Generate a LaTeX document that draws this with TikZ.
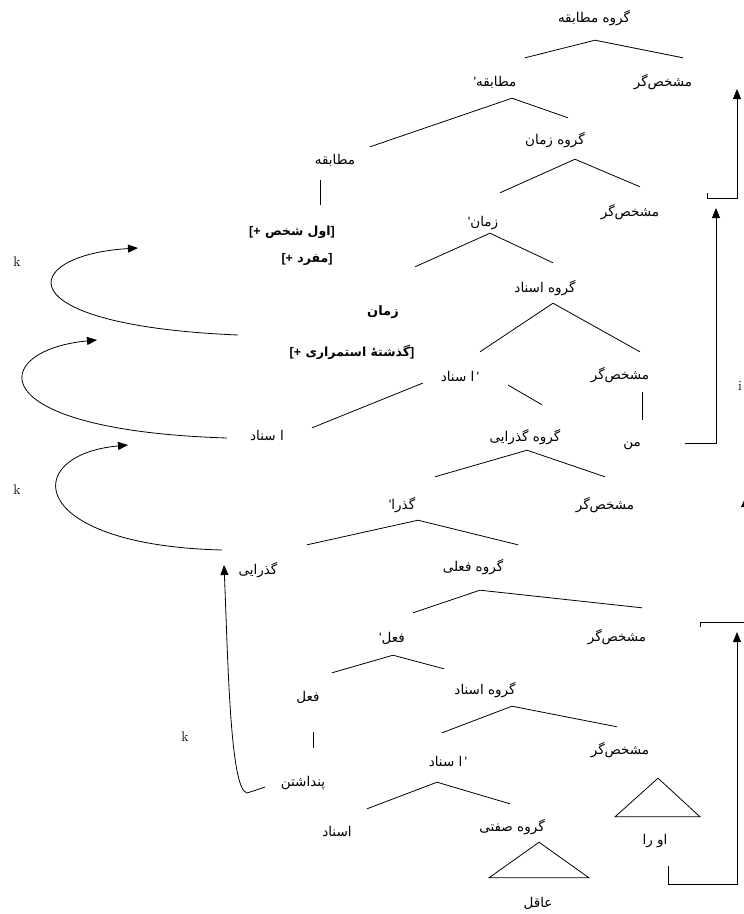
\documentclass[tikz,border=0pt]{standalone}
\usepackage{fontspec}
\usepackage{tikz}
\usetikzlibrary{arrows.meta}
\TeXXeTstate=1
\newfontfamily\farsi[Script=Arabic]{DejaVu Sans}
\newfontfamily\latn{Liberation Sans}
\newcommand{\ap}{{\latn'}}

\begin{document}
\begin{tikzpicture}[
  x=1pt, y=-1pt,
  lab/.style={inner sep=0pt, text height=10pt, text depth=2pt,
    font=\farsi\fontsize{13.5}{15}\selectfont},
  feat/.style={lab, font=\farsi\bfseries\fontsize{12.5}{14}\selectfont},
  headb/.style={lab, font=\farsi\bfseries\fontsize{13}{15}\selectfont},
  idx/.style={inner sep=0pt, font=\fontsize{14}{16}\selectfont},
  br/.style={draw, line width=0.8pt},
  mv/.style={draw, line width=0.8pt, -{Triangle[length=10pt,width=8pt]}}
]
\useasboundingbox (0,0) rectangle (744,914);

% nodes of the tree
\node[lab] (gm) at (594,18) {\beginR گروه مطابقه\endR};
\node[lab] (mtbp) at (495,82) {\ap\beginR مطابقه\endR};
\node[lab] (msh1) at (663,82) {\beginR مشخص‌گر\endR};
\node[lab] (mtb) at (335,160) {\beginR مطابقه\endR};
\node[lab] (gz) at (555,140) {\beginR گروه زمان\endR};
\node[lab] (zp) at (483,222) {\ap\beginR زمان\endR};
\node[lab] (msh2) at (630,212) {\beginR مشخص‌گر\endR};
\node[feat] (f1) at (292,231) {\hbox{\latn[+}\ \hbox{\beginR اول شخص\endR}\hbox{\latn]}};
\node[feat] (f2) at (307,258) {\hbox{\latn[+}\ \hbox{\beginR مفرد\endR}\hbox{\latn]}};
\node[headb] (zm) at (383,311) {\beginR زمان\endR};
\node[feat] (f3) at (352,352) {\hbox{\latn[+}\ \hbox{\beginR گذشتهٔ استمراری\endR}\hbox{\latn]}};
\node[lab] (ga1) at (545,288) {\beginR گروه اسناد\endR};
\node[lab] (asp1) at (460,377) {\beginR ا سناد\endR{\latn\,'}};
\node[lab] (msh3) at (620,375) {\beginR مشخص‌گر\endR};
\node[lab] (as1) at (267,436) {\beginR ا سناد\endR};
\node[lab] (gg) at (525,437) {\beginR گروه گذرایی\endR};
\node[lab] (man) at (632,442) {\beginR من\endR};
\node[lab] (gzp) at (402,505) {\ap\beginR گذرا\endR};
\node[lab] (msh4) at (605,505) {\beginR مشخص‌گر\endR};
\node[lab] (gzy) at (258,570) {\beginR گذرایی\endR};
\node[lab] (gf) at (473,567) {\beginR گروه فعلی\endR};
\node[lab] (fp) at (392,638) {\ap\beginR فعل\endR};
\node[lab] (msh5) at (617,637) {\beginR مشخص‌گر\endR};
\node[lab] (fe) at (308,697) {\beginR فعل\endR};
\node[lab] (ga2) at (485,690) {\beginR گروه اسناد\endR};
\node[lab] (pd) at (303,782) {\beginR پنداشتن\endR};
\node[lab] (asp2) at (448,762) {\beginR ا سناد\endR{\latn\,'}};
\node[lab] (msh6) at (620,750) {\beginR مشخص‌گر\endR};
\node[lab] (asn) at (337,832) {\beginR اسناد\endR};
\node[lab] (gs) at (512,827) {\beginR گروه صفتی\endR};
\node[lab] (aq) at (538,903) {\beginR عاقل\endR};
\node[lab] (ora) at (655,840) {\beginR او را\endR};

\node[idx] (k1) at (17,262) {k};
\node[idx] (k2) at (17,490) {k};
\node[idx] (k3) at (185,737) {k};
\node[idx] (i1) at (740,386) {i};

% branches
\draw[br] ([shift={(30,-18)}]mtbp.north) -- ([shift={(1,16)}]gm.south) -- ([shift={(20,-18)}]msh1.north);
\draw[br] ([shift={(35,-7)}]mtb.north) -- ([shift={(17,10)}]mtbp.south) -- ([shift={(13,-16)}]gz.north);
\draw[br] ([shift={(17,-23)}]zp.north) -- ([shift={(20,13)}]gz.south) -- ([shift={(10,-19)}]msh2.north);
\draw[br] ([shift={(32,-38)}]zm.north) -- ([shift={(7,5)}]zp.south) -- ([shift={(8,-19)}]ga1.north);
\draw[br] ([shift={(20,-19)}]asp1.north) -- ([shift={(8,9)}]ga1.south) -- ([shift={(20,-17)}]msh3.north);
\draw[br] ([shift={(-37,6)}]asp1.center) -- ([shift={(45,-2)}]as1.north);
\draw[br] ([shift={(48,8)}]asp1.center) -- ([shift={(17,-26)}]gg.north);
\draw[br] ([shift={(33,-22)}]gzp.north) -- ([shift={(2,7)}]gg.south) -- ([shift={(0,-22)}]msh4.north);
\draw[br] ([shift={(49,-19)}]gzy.north) -- ([shift={(16,9)}]gzp.south) -- ([shift={(45,-16)}]gf.north);
\draw[br] ([shift={(21,-19)}]fp.north) -- ([shift={(7,17)}]gf.south) -- ([shift={(25,-23)}]msh5.north);
\draw[br] ([shift={(24,-18)}]fe.north) -- ([shift={(1,11)}]fp.south) -- ([shift={(-41,-15)}]ga2.north);
\draw[br] ([shift={(-6,-23)}]asp2.north) -- ([shift={(27,10)}]ga2.south) -- ([shift={(-3,-17)}]msh6.north);
\draw[br] ([shift={(30,-17)}]asn.north) -- ([shift={(-11,14)}]asp2.south) -- ([shift={(-2,-17)}]gs.north);

% unary lines and triangles
\draw[br] ([shift={(-15,14)}]mtb.south) -- ([shift={(28,-20)}]f1.north);
\draw[br] ([shift={(22,11)}]msh3.south) -- ([shift={(10,-16)}]man.north);
\draw[br] ([shift={(5,29)}]fe.south) -- ([shift={(10,-28)}]pd.north);
\draw[br] ([shift={(27,9)}]gs.south) -- ([shift={(51,-19)}]aq.north) -- ([shift={(-49,-19)}]aq.north) -- cycle;
\draw[br] ([shift={(38,22)}]msh6.south) -- ([shift={(45,-17)}]ora.north) -- ([shift={(-40,-17)}]ora.north) -- cycle;

% movement arrows
\coordinate (m1s) at (238,335);
\coordinate (m1t) at (138,248);
\coordinate (m2t) at (97,340);
\coordinate (m3t) at (128,445);
\draw[mv] (m1s) .. controls (0,325) and (20,255) .. (m1t);
\draw[mv] ([shift={(-40,2)}]as1.center) .. controls (-25,430) and (-10,350) .. (m2t);
\draw[mv] ([shift={(-36,-20)}]gzy.center) .. controls (25,545) and (20,455) .. (m3t);
\draw[mv] ([shift={(-38,5)}]pd.center) -- ++(-18,6) .. controls (230,790) and (228,660) .. ([shift={(-34,-5)}]gzy.center);

% index arrows on the right
\coordinate (r1s) at (707,193);
\coordinate (r1t) at (737,89);
\coordinate (r2t) at (716,208);
\coordinate (r3s) at (668,866);
\coordinate (r3t) at (737,632);
\coordinate (r4s) at (700,627);
\draw[mv] (r1s) -- ++(0,5) -| (r1t);
\draw[mv] ([shift={(53,1)}]man.center) -| (r2t);
\draw[mv] (r3s) -- ++(0,18) -| (r3t);
\draw[br] (r4s) -- ++(0,-5) -- (744,622);
\begin{scope}
  \clip (0,0) rectangle (744,914);
  \fill (746,496) -- (741,507) -- (751,507) -- cycle;
\end{scope}
\end{tikzpicture}
\end{document}
